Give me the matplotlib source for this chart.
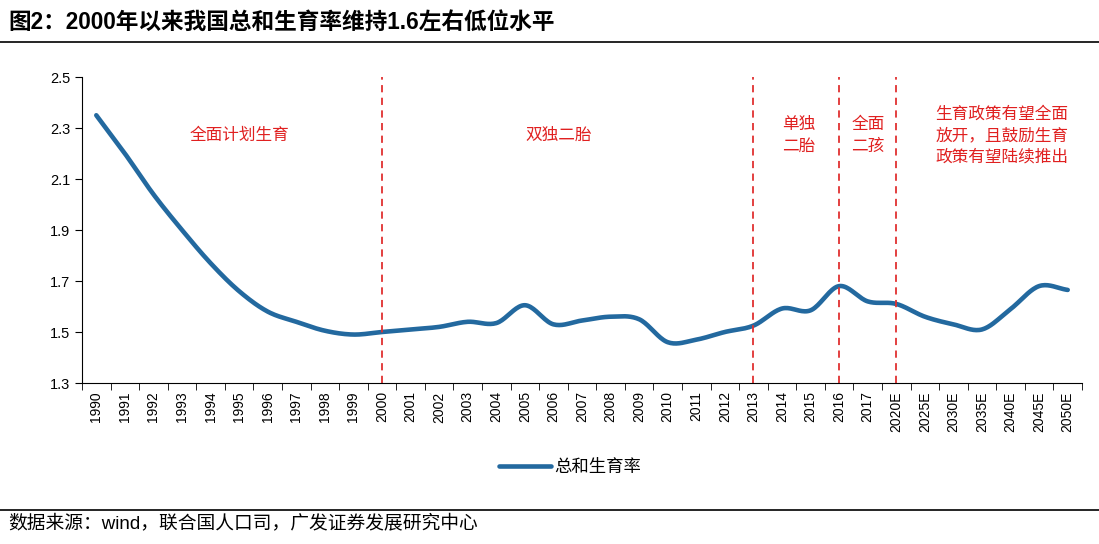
import numpy as np
import matplotlib
matplotlib.use('Agg')
import matplotlib.pyplot as plt
from matplotlib.lines import Line2D

plt.rcParams['font.family'] = ['Liberation Sans', 'Noto Sans CJK SC', 'DejaVu Sans']

years = [str(y) for y in range(1990, 2018)] + ['2020E', '2025E', '2030E', '2035E', '2040E', '2045E', '2050E']
tfr = [2.35, 2.20, 2.04, 1.90, 1.77, 1.66, 1.58, 1.54, 1.505, 1.49,
       1.50, 1.51, 1.52, 1.54, 1.535, 1.605, 1.53, 1.545, 1.56, 1.55,
       1.46, 1.47, 1.50, 1.525, 1.592, 1.585, 1.68, 1.62,
       1.61, 1.56, 1.53, 1.51, 1.59, 1.68, 1.665]
policy_years = ['2000', '2013', '2016', '2020E']
notes = ['全面计划生育', '双独二胎', '单独\n二胎', '全面\n二孩', '生育政策有望全面\n放开，且鼓励生育\n政策有望陆续推出']
note_x = [5.0, 16.2, 24.6, 27.0, 31.7]


def smooth(x, y, n=20):
    # catmull-rom, roughly what excel does for smoothed lines
    x = np.asarray(x, float); y = np.asarray(y, float)
    px = np.concatenate([[2*x[0]-x[1]], x, [2*x[-1]-x[-2]]])
    py = np.concatenate([[2*y[0]-y[1]], y, [2*y[-1]-y[-2]]])
    xs, ys = [], []
    t = np.linspace(0, 1, n, endpoint=False)
    for i in range(1, len(px)-2):
        for p, out in ((px, xs), (py, ys)):
            p0, p1, p2, p3 = p[i-1], p[i], p[i+1], p[i+2]
            out.extend(0.5*((2*p1) + (-p0+p2)*t + (2*p0-5*p1+4*p2-p3)*t**2 + (-p0+3*p1-3*p2+p3)*t**3))
    xs.append(x[-1]); ys.append(y[-1])
    return np.array(xs), np.array(ys)


fig = plt.figure(figsize=(10.99, 5.44), dpi=100)
ax = fig.add_axes([82/1099, 1-383/544, (1082-82)/1099, (383-77)/544])

idx = np.arange(len(years))
sx, sy = smooth(idx, tfr)
ax.plot(sx, sy, color='#23699F', lw=3.3, solid_capstyle='round', label='总和生育率')

for py in policy_years:
    ax.axvline(years.index(py), color='#E03030', ls=(0, (4, 3)), lw=1.3)

for t, xx in zip(notes, note_x):
    ax.text(xx, 2.27, t, color='#E02020', fontsize=12, ha='center', va='center',
            family=['Noto Sans CJK SC'], linespacing=1.35)

ax.set_xlim(-0.5, len(years)-0.5)
ax.set_ylim(1.3, 2.5)
ax.set_yticks([1.3, 1.5, 1.7, 1.9, 2.1, 2.3, 2.5])
ax.set_yticklabels(['%.1f' % v for v in [1.3, 1.5, 1.7, 1.9, 2.1, 2.3, 2.5]], fontsize=10.5)
ax.set_xticks(idx)
ax.set_xticklabels(years, rotation=90, fontsize=10)
ax.set_xticks(np.arange(-0.5, len(years)), minor=True)
ax.tick_params(axis='x', which='major', length=0, pad=6)
ax.tick_params(axis='x', which='minor', length=5, direction='out')
ax.tick_params(axis='y', length=5, direction='out')
ax.spines['top'].set_visible(False)
ax.spines['right'].set_visible(False)

fig.legend(loc='center', bbox_to_anchor=(570/1099, 1-467/544), frameon=False,
           prop={'family': ['Noto Sans CJK SC'], 'size': 12.5}, handlelength=3, handletextpad=0.2)

fig.text(8/1099, 1-22/544, '图2：2000年以来我国总和生育率维持1.6左右低位水平', fontsize=16.3,
         fontweight='bold', va='center', ha='left')
fig.add_artist(Line2D([0, 1], [1-42/544, 1-42/544], color='black', lw=1.2))
fig.add_artist(Line2D([0, 1], [1-510/544, 1-510/544], color='black', lw=1.2))
fig.text(8/1099, 1-523/544, '数据来源：wind，联合国人口司，广发证券发展研究中心', fontsize=13.5,
         va='center', ha='left')

fig.savefig('out.png', dpi=100)
